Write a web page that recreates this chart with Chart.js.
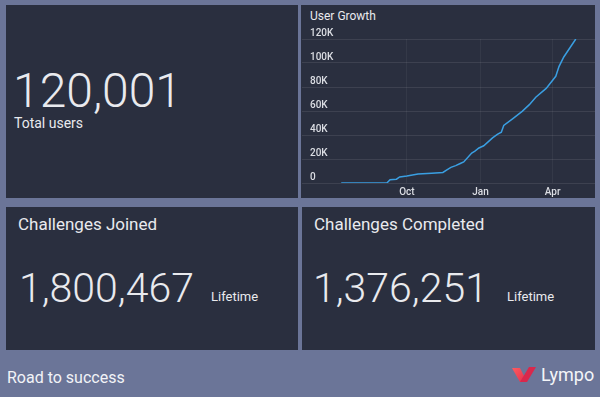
<!DOCTYPE html>
<html>
<head>
<meta charset="utf-8">
<script src="https://cdn.jsdelivr.net/npm/chart.js@4/dist/chart.umd.min.js"></script>
<style>
  html, body { margin:0; padding:0; }
  body { width:600px; height:397px; background:#6b7598; position:relative; overflow:hidden; font-family: Roboto, "Noto Sans", sans-serif; color:#e9eaee; }
  .panel { position:absolute; background:#2a2f3f; }
  .t { position:absolute; white-space:nowrap; line-height:1; }
  #chartBox { position:absolute; left:300px; top:24px; width:295px; height:177px; }
</style>
</head>
<body>
<div class="panel" style="left:6px;top:5px;width:292px;height:193px;"></div>
<div class="panel" style="left:301px;top:5px;width:294px;height:193px;"></div>
<div class="panel" style="left:6px;top:207px;width:292px;height:143px;"></div>
<div class="panel" style="left:302px;top:207px;width:293px;height:143px;"></div>

<div class="t" id="totalValue" style="left:13px;top:67px;font-size:48px;font-weight:300;"></div>
<div class="t" id="totalLabel" style="left:14px;top:115.8px;font-size:14px;"></div>

<div class="t" id="joinedTitle" style="left:18px;top:215.5px;font-size:17px;"></div>
<div class="t" id="joinedValue" style="left:19px;top:268px;font-size:41px;font-weight:300;"></div>
<div class="t" id="joinedSub" style="left:211px;top:290.3px;font-size:13px;"></div>

<div class="t" id="doneTitle" style="left:314px;top:215.5px;font-size:17px;"></div>
<div class="t" id="doneValue" style="left:313px;top:268px;font-size:41px;font-weight:300;"></div>
<div class="t" id="doneSub" style="left:507px;top:290.3px;font-size:13px;"></div>

<div class="t" id="chartTitle" style="left:310px;top:10.1px;font-size:12px;"></div>
<div id="chartBox"><canvas id="c" width="295" height="177"></canvas></div>

<div class="t" id="footer" style="left:7px;top:370.2px;font-size:16px;color:#f2f3f7;"></div>
<svg style="position:absolute;left:512px;top:366px;" width="26" height="17" viewBox="0 0 26 17">
  <defs>
    <linearGradient id="g1" x1="0" y1="0" x2="1" y2="1">
      <stop offset="0" stop-color="#ff5a5f"/><stop offset="1" stop-color="#e0304e"/>
    </linearGradient>
  </defs>
  <polygon points="0,2 8,2 15,16 8,16" fill="url(#g1)"/>
  <polygon points="8,16 15,16 24,1 17,1" fill="#d9284c"/>
</svg>
<div class="t" id="brand" style="left:541px;top:366px;font-size:18px;color:#f4f5f8;"></div>

<script>
// ---- data ----
const totalUsers = '120,001';
const totalUsersLabel = 'Total users';
const joinedTitle = 'Challenges Joined';
const joinedValue = '1,800,467';
const completedTitle = 'Challenges Completed';
const completedValue = '1,376,251';
const lifetimeLabel = 'Lifetime';
const chartTitle = 'User Growth';
const footerText = 'Road to success';
const brandText = 'Lympo';

const dates = ['2017-07-11','2017-09-06','2017-09-10','2017-09-18','2017-09-22','2017-10-01','2017-10-15',
  '2017-11-01','2017-11-15','2017-11-20','2017-11-25','2017-12-01','2017-12-06','2017-12-11','2017-12-21',
  '2017-12-25','2017-12-30','2018-01-05','2018-01-16','2018-01-22','2018-01-27','2018-01-30','2018-02-10',
  '2018-02-22','2018-03-03','2018-03-11','2018-03-24','2018-04-05','2018-04-09','2018-04-15','2018-04-30'];
const users = [0,0,2800,3200,5000,5800,7400,
  8200,8800,11000,13000,14500,16000,17500,25000,
  26500,29200,31000,37600,40500,42300,48000,53500,
  59700,65300,71500,78800,88900,97000,105000,120001];

const xRange = ['2017-05-23','2018-05-24'];
const xTickDates = ['2017-10-01','2018-01-01','2018-04-01'];
const xTickLabels = ['Oct','Jan','Apr'];
const yTickValues = [0,20000,40000,60000,80000,100000,120000];
const yTickLabels = ['0','20K','40K','60K','80K','100K','120K'];

// ---- text ----
const setText = (id, s) => { document.getElementById(id).textContent = s; };
setText('totalValue', totalUsers);
setText('totalLabel', totalUsersLabel);
setText('joinedTitle', joinedTitle);
setText('joinedValue', joinedValue);
setText('joinedSub', lifetimeLabel);
setText('doneTitle', completedTitle);
setText('doneValue', completedValue);
setText('doneSub', lifetimeLabel);
setText('chartTitle', chartTitle);
setText('footer', footerText);
setText('brand', brandText);

// ---- chart ----
const dayNum = s => { const [y,m,d] = s.split('-').map(Number); return Date.UTC(y, m-1, d) / 86400000; };
const xTickDays = xTickDates.map(dayNum);

new Chart(document.getElementById('c'), {
  type: 'line',
  data: {
    datasets: [{
      data: dates.map((d, i) => ({ x: dayNum(d), y: users[i] })),
      borderColor: '#3a9fe2',
      borderWidth: 1.5,
      pointRadius: 0,
      tension: 0,
      fill: false
    }]
  },
  options: {
    responsive: false,
    devicePixelRatio: 1,
    animation: false,
    layout: { padding: { top: 15, left: 0, right: 0, bottom: 0 } },
    plugins: { legend: { display: false }, tooltip: { enabled: false } },
    scales: {
      x: {
        type: 'linear',
        min: dayNum(xRange[0]),
        max: dayNum(xRange[1]),
        afterBuildTicks: axis => { axis.ticks = xTickDays.map(v => ({ value: v })); },
        ticks: {
          autoSkip: false, maxRotation: 0, padding: 3,
          color: '#dcdee4', font: { family: 'Roboto', size: 10, weight: '500' },
          callback: (v, i) => xTickLabels[i]
        },
        grid: { color: 'rgba(255,255,255,0.05)', drawTicks: false },
        border: { display: false }
      },
      y: {
        min: 0, max: 120000,
        afterBuildTicks: axis => { axis.ticks = yTickValues.map(v => ({ value: v })); },
        afterFit: s => { s.width = 2; },
        ticks: {
          mirror: true, padding: 8, labelOffset: -6,
          color: '#dcdee4', font: { family: 'Roboto', size: 10, weight: '500' },
          callback: (v, i) => yTickLabels[i]
        },
        grid: { color: 'rgba(255,255,255,0.09)', drawTicks: false },
        border: { display: false }
      }
    }
  }
});
</script>
</body>
</html>
